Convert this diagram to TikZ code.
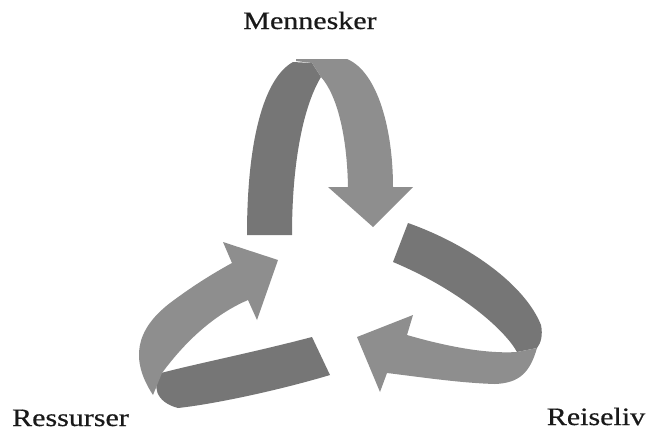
\documentclass[tikz,border=0pt]{standalone}
\usepackage{fontspec}
\setmainfont{Liberation Serif}
\newfontfamily\lblfamily{Liberation Serif}[FakeBold=0.5]
\definecolor{darkband}{HTML}{767676}
\definecolor{lightband}{HTML}{8E8E8E}
\tikzset{
  back/.style={fill=darkband},
  front/.style={fill=lightband},
  lbl/.style={anchor=base, inner sep=0pt, text=black!90, font=\lblfamily\fontsize{25}{30}\selectfont}
}
\begin{document}
\begin{tikzpicture}[x=1pt,y=-1pt]
\useasboundingbox (0,0) rectangle (648,432);

% top arrow
\fill[back] (247,235) .. controls (247,140) and (264,78) .. (293,62) -- (312,63) -- (321,77)
  .. controls (304,105) and (292,160) .. (292,235) -- cycle;
\fill[front] (296,59) -- (347,59) .. controls (378,72) and (393,130) .. (393,187)
  -- (413,187) -- (373,227) -- (328,187) -- (348,187)
  .. controls (347,135) and (337,95) .. (321,77) -- (312,63) -- (296,61) -- cycle;

% left arrow
\fill[back] (312,337) .. controls (255,352) and (195,364) .. (161,373)
  .. controls (152,385) and (155,402) .. (178,408)
  .. controls (215,404) and (280,390) .. (330,375) -- cycle;
\fill[front] (153,395) .. controls (130,360) and (135,330) .. (170,303)
  .. controls (190,288) and (210,275) .. (232,263)
  -- (223,242) -- (278,260) -- (257,320) -- (248,300)
  .. controls (220,312) and (190,335) .. (162,373) -- cycle;

% right arrow
\fill[back] (408,223) .. controls (470,245) and (525,285) .. (541,325)
  .. controls (543,335) and (541,343) .. (537,348) -- (517,352)
  .. controls (505,330) and (460,290) .. (393,262) -- cycle;
\fill[front] (517,352) -- (537,348) .. controls (530,372) and (520,383) .. (495,384)
  .. controls (460,383) and (420,377) .. (387,373)
  -- (380,392) -- (357,337) -- (413,315) -- (407,335)
  .. controls (445,346) and (485,354) .. (517,352) -- cycle;

% labels
\node[lbl] (mennesker) at (310,29) {\scalebox{1.2}[1]{Mennesker}};
\node[lbl] (ressurser) at (70.5,426) {\scalebox{1.2}[1]{Ressurser}};
\node[lbl] (reiseliv) at (596,425) {\scalebox{1.2}[1]{Reiseliv}};
\end{tikzpicture}
\end{document}
